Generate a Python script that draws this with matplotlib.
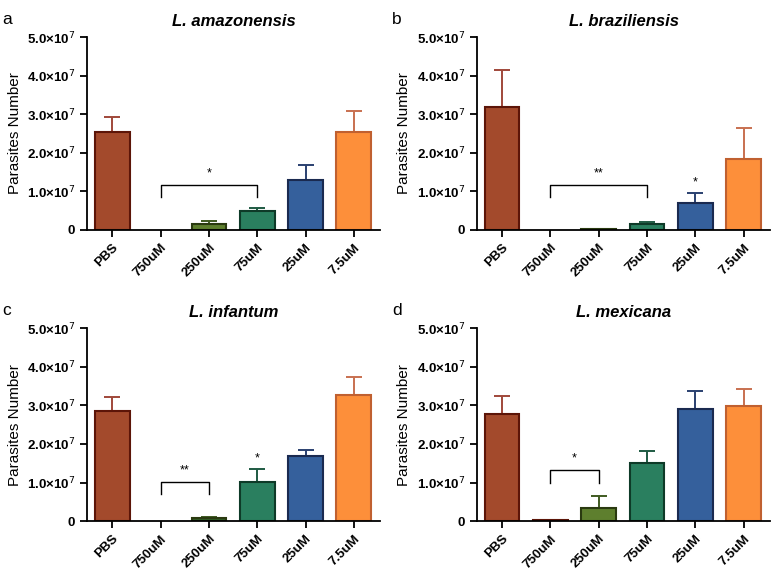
import numpy as np
import matplotlib
matplotlib.use("Agg")
import matplotlib.pyplot as plt

plt.rcParams['font.family'] = ['Liberation Sans', 'DejaVu Sans']

groups = ['PBS', '750uM', '250uM', '75uM', '25uM', '7.5uM']
species = ['L. amazonensis', 'L. braziliensis', 'L. infantum', 'L. mexicana']
letters = ['a', 'b', 'c', 'd']

# means and upper error (sd), units of 1e7
means = [
    [2.55, 0.0, 0.16, 0.48, 1.30, 2.53],
    [3.20, 0.0, 0.03, 0.16, 0.71, 1.85],
    [2.86, 0.0, 0.07, 1.02, 1.70, 3.27],
    [2.77, 0.02, 0.35, 1.51, 2.92, 2.98],
]
errs = [
    [0.37, 0.0, 0.08, 0.08, 0.39, 0.56],
    [0.95, 0.0, 0.0, 0.05, 0.26, 0.79],
    [0.37, 0.0, 0.04, 0.32, 0.14, 0.46],
    [0.47, 0.0, 0.30, 0.32, 0.45, 0.45],
]
# bracket: (start idx, end idx, height, stars)
brackets = [(1, 3, 1.17, '*'), (1, 3, 1.17, '**'), (1, 2, 1.02, '**'), (1, 2, 1.32, '*')]
# single stars over bars: (idx, height)
single_stars = [[], [(4, 1.08)], [(3, 1.46)], []]

fills = ['#a34a2c', '#a34a2c', '#5e7f2e', '#2a7f5f', '#35609c', '#fd8f3a']
edges = ['#5c1508', '#5c1508', '#2a3a10', '#0e3a28', '#1a2a50', '#c06030']
ecols = ['#a0483a', '#a0483a', '#3f5a20', '#1e5a42', '#2a4070', '#c87050']
fills_c = list(fills)
fills_c[2] = '#2f5a25'

fig = plt.figure(figsize=(7.78, 5.72), dpi=100)
pos = [(0.112, 0.598), (0.613, 0.598), (0.112, 0.089), (0.613, 0.089)]

x = np.arange(len(groups))
for k in range(4):
    ax = fig.add_axes([pos[k][0], pos[k][1], 0.377, 0.337])
    m = np.array(means[k]) * 1e7
    e = np.array(errs[k]) * 1e7
    fc = fills_c if k == 2 else fills
    for i in range(len(groups)):
        if m[i] <= 0:
            continue
        ax.bar(x[i], m[i], width=0.72, color=fc[i], edgecolor=edges[i], linewidth=1.5, zorder=2)
        if e[i] > 0:
            ax.errorbar(x[i], m[i], yerr=[[0], [e[i]]], color=ecols[i], capsize=6,
                        elinewidth=1.4, capthick=1.4, zorder=1)
    ax.set_xlim(-0.52, 5.55)
    ax.set_ylim(0, 5e7)
    ax.set_yticks(np.arange(0, 6) * 1e7)
    ax.set_yticklabels(['0'] + ['%d.0×10$^{7}$' % i for i in range(1, 6)],
                       fontsize=9.5, fontweight='bold')
    ax.set_xticks(x)
    ax.set_xticklabels(groups, rotation=45, ha='right', rotation_mode='anchor',
                       fontsize=9.5, fontweight='bold')
    ax.spines['top'].set_visible(False)
    ax.spines['right'].set_visible(False)
    ax.spines['left'].set_linewidth(1.3)
    ax.spines['bottom'].set_linewidth(1.3)
    ax.tick_params(length=5, width=1.3)
    ax.set_ylabel('Parasites Number', fontsize=11)
    ax.set_title(species[k], fontsize=12, fontweight='bold', style='italic', pad=8)
    ax.text(-0.29, 1.07, letters[k], transform=ax.transAxes, fontsize=12.5)

    b0, b1, bh, st = brackets[k]
    bh = bh * 1e7
    ax.plot([b0, b0, b1, b1], [bh - 0.32e7, bh, bh, bh - 0.32e7], color='black', lw=1.0, zorder=3)
    ax.text((b0 + b1) / 2, bh + 0.15e7, st, ha='center', va='bottom', fontsize=9)
    for idx, h in single_stars[k]:
        ax.text(idx, h * 1e7, '*', ha='center', va='bottom', fontsize=9)

fig.savefig('out.png', dpi=100)
